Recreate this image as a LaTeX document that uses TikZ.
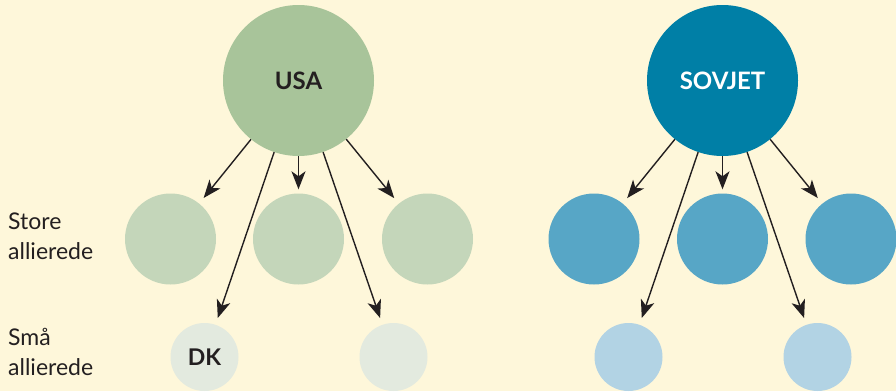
\documentclass[tikz,border=0pt]{standalone}
\usepackage{fontspec}
\setmainfont{Lato}
\usetikzlibrary{arrows.meta}
\definecolor{bg}{HTML}{FEF7DA}
\definecolor{usabig}{HTML}{A8C49A}
\definecolor{usastore}{HTML}{C4D6BA}
\definecolor{usasmall}{HTML}{E3EADF}
\definecolor{sovbig}{HTML}{007FA6}
\definecolor{sovstore}{HTML}{57A6C6}
\definecolor{sovsmall}{HTML}{B2D3E4}
\definecolor{ink}{HTML}{231F20}
\tikzset{
  bigc/.style={circle, inner sep=0pt, minimum size=151pt, font=\fontsize{24}{28}\selectfont\bfseries},
  storec/.style={circle, inner sep=0pt, minimum size=91pt},
  smallc/.style={circle, inner sep=0pt, minimum size=68pt, font=\fontsize{23}{28}\selectfont\bfseries, text=ink},
  arr/.style={draw=ink, line width=1.4pt, -{Stealth[length=18pt, width=14pt, inset=5pt]}, shorten >=7pt},
  lbl/.style={font=\fontsize{23}{30}\selectfont, text=ink, inner sep=0pt, align=left},
}
\begin{document}
\begin{tikzpicture}[x=1pt, y=-1pt]
\fill[bg] (0,0) rectangle (896,391);
\useasboundingbox (0,0) rectangle (896,391);

% USA
\node[bigc, fill=usabig, text=ink] (usa) at (298.5,80.5) {USA};
\node[storec, fill=usastore] (u1) at (170.5,239) {};
\node[storec, fill=usastore] (u2) at (298.5,239) {};
\node[storec, fill=usastore] (u3) at (427.5,239) {};
\node[smallc, fill=usasmall] (dk) at (204.5,357) {DK};
\node[smallc, fill=usasmall] (u5) at (393.5,357) {};
\draw[arr] (usa) -- (u1);
\draw[arr] (usa) -- (dk);
\draw[arr, shorten >=4pt] (usa) -- (u2);
\draw[arr] (usa) -- (u5);
\draw[arr] (usa) -- (u3);

% SOVJET
\node[bigc, fill=sovbig, text=white] (sov) at (722.5,80.5) {SOVJET};
\node[storec, fill=sovstore] (s1) at (594,239) {};
\node[storec, fill=sovstore] (s2) at (722.5,239) {};
\node[storec, fill=sovstore] (s3) at (851,239) {};
\node[smallc, fill=sovsmall] (s4) at (628.5,357) {};
\node[smallc, fill=sovsmall] (s5) at (817.5,357) {};
\draw[arr] (sov) -- (s1);
\draw[arr] (sov) -- (s4);
\draw[arr, shorten >=4pt] (sov) -- (s2);
\draw[arr] (sov) -- (s5);
\draw[arr] (sov) -- (s3);

% labels
\node[lbl, anchor=base west] (store) at (8,259) {Store\\allierede};
\node[lbl, anchor=base west] (smaa) at (8,375) {Små\\allierede};
\end{tikzpicture}
\end{document}
